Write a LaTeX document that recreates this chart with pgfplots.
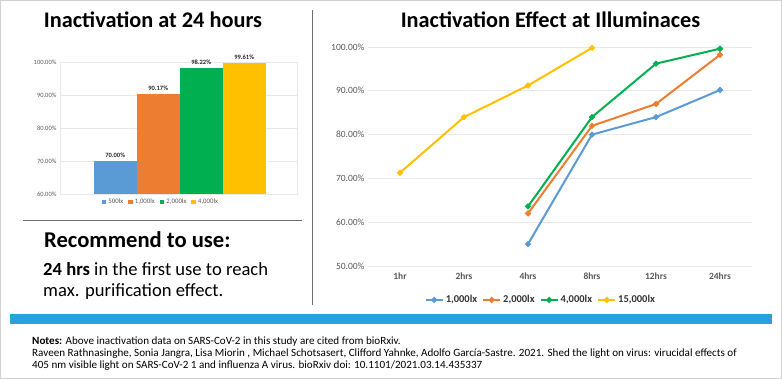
\documentclass[border=0pt]{standalone}
\usepackage{pgfplots}
\pgfplotsset{compat=1.18}
\usepackage{fontspec}
\setmainfont{Carlito}
\definecolor{cBlue}{HTML}{5B9BD5}
\definecolor{cOrange}{HTML}{ED7D31}
\definecolor{cGreen}{HTML}{00B050}
\definecolor{cYellow}{HTML}{FFC000}
\definecolor{band}{RGB}{38,163,220}
\definecolor{tickgray}{HTML}{595959}
\definecolor{gridgray}{HTML}{E8E8E8}
\definecolor{sepgray}{HTML}{6E6E6E}
\begin{document}
\begin{tikzpicture}
\useasboundingbox (0,0) rectangle (782pt,379pt);
\draw[draw=black!18, line width=0.8pt] (0.5pt,0.5pt) rectangle (781.5pt,378.5pt);
% titles
\node[anchor=base, inner sep=0pt, font=\fontsize{22.3}{26}\selectfont\bfseries] at (153pt,351pt) {Inactivation at 24 hours};
\node[anchor=base, inner sep=0pt, font=\fontsize{22.3}{26}\selectfont\bfseries] at (550.5pt,351pt) {Inactivation Effect at Illuminaces};
% separators
\draw[sepgray, line width=1pt] (23pt,158pt) -- (302pt,158pt);
\draw[sepgray, line width=1pt] (312pt,369pt) -- (312pt,74pt);
\fill[band] (10pt,55pt) rectangle (772pt,65pt);
% recommendation
\node[anchor=base west, inner sep=0pt, font=\fontsize{22.6}{27}\selectfont\bfseries] at (44pt,131pt) {Recommend to use:};
\node[anchor=base west, inner sep=0pt, font=\fontsize{18.6}{22}\selectfont] at (43pt,103pt) {\textbf{24 hrs} in the first use to reach};
\node[anchor=base west, inner sep=0pt, font=\fontsize{18.6}{22}\selectfont] at (43pt,82pt) {max. purification effect.};
% notes
\node[anchor=base west, inner sep=0pt, font=\fontsize{11.1}{13}\selectfont] at (32pt,34pt) {\textbf{Notes:} Above inactivation data on SARS-CoV-2 in this study are cited from bioRxiv.};
\node[anchor=base west, inner sep=0pt, font=\fontsize{11.1}{13}\selectfont] at (32pt,22pt) {Raveen Rathnasinghe, Sonia Jangra, Lisa Miorin , Michael Schotsasert, Clifford Yahnke, Adolfo García-Sastre. 2021. Shed the light on virus: virucidal effects of};
\node[anchor=base west, inner sep=0pt, font=\fontsize{11.1}{13}\selectfont] at (32pt,10pt) {405 nm visible light on SARS-CoV-2 1 and influenza A virus. bioRxiv doi: 10.1101/2021.03.14.435337};

% left bar chart
\begin{axis}[at={(60pt,185pt)}, anchor=south west, scale only axis,
  width=237pt, height=132pt,
  ymin=60, ymax=100, xmin=-1.01, xmax=0.99,
  ybar=0pt, bar width=43pt,
  ytick={60,70,80,90,100},
  yticklabels={60.00\%,70.00\%,80.00\%,90.00\%,100.00\%},
  xtick=\empty, ymajorgrids,
  grid style={gridgray, line width=0.6pt},
  axis line style={gridgray, line width=0.6pt},
  major tick length=0pt,
  yticklabel style={font=\fontsize{6.5}{7}\selectfont, text=tickgray},
  nodes near coords, point meta=explicit symbolic,
  nodes near coords style={font=\fontsize{6.5}{7}\selectfont\bfseries, text=black!85},
  legend columns=4,
  legend style={at={(0.426,-0.06)}, anchor=center, draw=none, fill=none,
    font=\fontsize{6.8}{7}\selectfont, text=tickgray,
    /tikz/every even column/.append style={column sep=3pt}},
  legend image code/.code={\fill[#1] (0pt,-2.3pt) rectangle (4.6pt,2.3pt);},
]
\addplot[fill=cBlue, draw=none] coordinates {(0,70.00) [70.00\%]};
\addplot[fill=cOrange, draw=none] coordinates {(0,90.17) [90.17\%]};
\addplot[fill=cGreen, draw=none] coordinates {(0,98.22) [98.22\%]};
\addplot[fill=cYellow, draw=none] coordinates {(0,99.61) [99.61\%]};
\legend{500lx,{1,000lx},{2,000lx},{4,000lx}}
\end{axis}

% right line chart
\begin{axis}[at={(368pt,113pt)}, anchor=south west, scale only axis,
  width=384pt, height=219pt,
  ymin=50, ymax=100, xmin=-0.5, xmax=5.5,
  ytick={50,60,70,80,90,100},
  yticklabels={50.00\%,60.00\%,70.00\%,80.00\%,90.00\%,100.00\%},
  xtick={0,1,2,3,4,5},
  xticklabels={1hr,2hrs,4hrs,8hrs,12hrs,24hrs},
  ymajorgrids, grid style={gridgray, line width=0.6pt},
  axis line style={draw=none}, major tick length=0pt,
  yticklabel style={font=\fontsize{9.5}{11}\selectfont, text=tickgray},
  xticklabel style={font=\fontsize{9.5}{11}\selectfont\bfseries, text=tickgray, yshift=-3pt},
  legend columns=4,
  legend style={at={(0.45,-0.155)}, anchor=center, draw=none, fill=none,
    font=\fontsize{10.5}{12}\selectfont\bfseries, text=black!80,
    /tikz/every even column/.append style={column sep=3pt}},
  every axis plot/.append style={line width=2pt, mark=*, mark size=1.9pt},
]
\addplot[cBlue] coordinates {(2,55.0) (3,80.0) (4,84.0) (5,90.17)};
\addplot[cOrange] coordinates {(2,62.0) (3,82.0) (4,87.0) (5,98.22)};
\addplot[cGreen] coordinates {(2,63.6) (3,84.0) (4,96.2) (5,99.61)};
\addplot[cYellow] coordinates {(0,71.3) (1,84.0) (2,91.2) (3,99.8)};
\legend{{1,000lx},{2,000lx},{4,000lx},{15,000lx}}
\end{axis}
\end{tikzpicture}
\end{document}
